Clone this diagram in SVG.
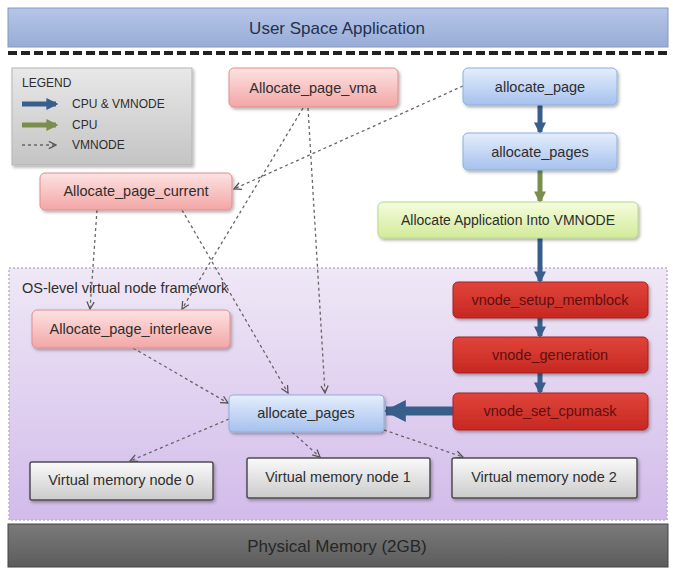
<svg xmlns="http://www.w3.org/2000/svg" width="673" height="570" viewBox="0 0 673 570">
<defs>
<linearGradient id="gBar" x1="0" y1="0" x2="0" y2="1"><stop offset="0" stop-color="#b6c6e8"/><stop offset="1" stop-color="#98acd6"/></linearGradient>
<linearGradient id="gPhys" x1="0" y1="0" x2="0" y2="1"><stop offset="0" stop-color="#7a7a7a"/><stop offset="1" stop-color="#5c5c5c"/></linearGradient>
<linearGradient id="gFrame" x1="0" y1="0" x2="0" y2="1"><stop offset="0" stop-color="#efe8f6"/><stop offset="1" stop-color="#d2bbea"/></linearGradient>
<linearGradient id="gPink" x1="0" y1="0" x2="0" y2="1"><stop offset="0" stop-color="#fde2e2"/><stop offset="1" stop-color="#f3a6a6"/></linearGradient>
<linearGradient id="gBlue" x1="0" y1="0" x2="0" y2="1"><stop offset="0" stop-color="#e4eefc"/><stop offset="1" stop-color="#a6c1ee"/></linearGradient>
<linearGradient id="gGreen" x1="0" y1="0" x2="0" y2="1"><stop offset="0" stop-color="#f5fcdf"/><stop offset="1" stop-color="#d2eb98"/></linearGradient>
<linearGradient id="gRed" x1="0" y1="0" x2="0" y2="1"><stop offset="0" stop-color="#e0443a"/><stop offset="1" stop-color="#c62822"/></linearGradient>
<linearGradient id="gGray" x1="0" y1="0" x2="0" y2="1"><stop offset="0" stop-color="#fafafa"/><stop offset="1" stop-color="#cbcbcb"/></linearGradient>
<linearGradient id="gLegend" x1="0" y1="0" x2="0" y2="1"><stop offset="0" stop-color="#e8e8e8"/><stop offset="1" stop-color="#c4c4c4"/></linearGradient>
<filter id="sh" x="-10%" y="-20%" width="125%" height="150%"><feDropShadow dx="1.5" dy="2" stdDeviation="1.5" flood-color="#000" flood-opacity="0.3"/></filter>
<marker id="mDash" viewBox="0 0 10 10" refX="9" refY="5" markerWidth="9" markerHeight="9" markerUnits="userSpaceOnUse" orient="auto"><path d="M1,1 L9,5 L1,9" fill="none" stroke="#555" stroke-width="1.4"/></marker>
<marker id="mBlue" viewBox="0 0 10 10" refX="8" refY="5" markerWidth="12" markerHeight="12" markerUnits="userSpaceOnUse" orient="auto"><path d="M0,0 L10,5 L0,10 Z" fill="#385f8c"/></marker>
<marker id="mGreen" viewBox="0 0 10 10" refX="8" refY="5" markerWidth="12" markerHeight="12" markerUnits="userSpaceOnUse" orient="auto"><path d="M0,0 L10,5 L0,10 Z" fill="#7a8f4e"/></marker>
<marker id="mBig" viewBox="0 0 10 10" refX="9" refY="5" markerWidth="22" markerHeight="22" markerUnits="userSpaceOnUse" orient="auto"><path d="M0,0 L10,5 L0,10 Z" fill="#385f8c"/></marker>
</defs>
<style>
text{font-family:"Liberation Sans",Arial,sans-serif;font-size:14.5px;fill:#2e2e2e;text-anchor:middle;dominant-baseline:central}
.pink{fill:url(#gPink);stroke:#df8e8e;stroke-width:1;filter:url(#sh)}
.blue{fill:url(#gBlue);stroke:#8eafdc;stroke-width:1;filter:url(#sh)}
.green{fill:url(#gGreen);stroke:#b8d68a;stroke-width:1;filter:url(#sh)}
.red{fill:url(#gRed);stroke:#a82020;stroke-width:1;filter:url(#sh)}
.gray{fill:url(#gGray);stroke:#4d4d4d;stroke-width:1.5;filter:url(#sh)}
.redt{fill:#5e1010}
.lt{text-anchor:start;font-size:12px}
.dash{fill:none;stroke:#666;stroke-width:1.3;stroke-dasharray:3 3;marker-end:url(#mDash)}
.thick{fill:none;stroke:#385f8c;stroke-width:5;marker-end:url(#mBlue)}
.thickg{fill:none;stroke:#7a8f4e;stroke-width:5;marker-end:url(#mGreen)}
</style>
<rect width="673" height="570" fill="#fff"/>
<g id="user-space">
<rect x="8" y="8" width="660" height="39" fill="url(#gBar)" stroke="#8797bd"/>
<text x="337" y="28" style="font-size:17px;fill:#25304f">User Space Application</text>
</g>
<line x1="8" y1="53" x2="668" y2="53" stroke="#222" stroke-width="4" stroke-dasharray="9 4"/>
<g id="os-frame">
<rect x="9" y="268" width="658" height="252" fill="url(#gFrame)" stroke="#bdb3c6" stroke-width="1.5" stroke-dasharray="2 2"/>
<text x="22" y="288" style="text-anchor:start">OS-level virtual node framework</text>
</g>
<g id="physical-memory">
<rect x="8" y="524" width="660" height="43" fill="url(#gPhys)" stroke="#444"/>
<text x="337" y="546" style="font-size:17px;fill:#262626">Physical Memory (2GB)</text>
</g>
<g id="legend">
<rect x="12" y="68" width="180" height="97" fill="url(#gLegend)" stroke="#b5b5b5" filter="url(#sh)"/>
<text x="22" y="83" class="lt">LEGEND</text>
<line x1="22" y1="104" x2="56" y2="104" stroke="#385f8c" stroke-width="5" marker-end="url(#mBlue)"/>
<text x="72" y="104" class="lt">CPU &amp; VMNODE</text>
<line x1="22" y1="125" x2="56" y2="125" stroke="#7a8f4e" stroke-width="5" marker-end="url(#mGreen)"/>
<text x="72" y="125" class="lt">CPU</text>
<line x1="22" y1="145" x2="56" y2="145" class="dash"/>
<text x="72" y="145" class="lt">VMNODE</text>
</g>
<g id="connectors">
<line x1="540" y1="105" x2="540" y2="132" class="thick"/>
<line x1="540" y1="170" x2="540" y2="201" class="thickg"/>
<line x1="540" y1="238" x2="540" y2="281" class="thick"/>
<line x1="540" y1="318" x2="540" y2="336" class="thick"/>
<line x1="540" y1="373" x2="540" y2="392" class="thick"/>
<line x1="453" y1="411" x2="386" y2="411" stroke="#385f8c" stroke-width="9" marker-end="url(#mBig)"/>
<line x1="463" y1="86" x2="234" y2="189" class="dash"/>
<line x1="303" y1="108" x2="182" y2="309" class="dash"/>
<line x1="308" y1="108" x2="325" y2="393" class="dash"/>
<line x1="97" y1="210" x2="90" y2="309" class="dash"/>
<line x1="182" y1="210" x2="288" y2="393" class="dash"/>
<line x1="133" y1="348" x2="228" y2="403" class="dash"/>
<line x1="229" y1="419" x2="130" y2="461" class="dash"/>
<line x1="292" y1="432" x2="320" y2="457" class="dash"/>
<line x1="384" y1="430" x2="463" y2="457" class="dash"/>
</g>
<g id="allocate_page">
<rect x="463" y="68" width="154" height="37" rx="5" class="blue"/>
<text x="540" y="87">allocate_page</text>
</g>
<g id="allocate_pages_top">
<rect x="463" y="133" width="154" height="37" rx="5" class="blue"/>
<text x="540" y="152">allocate_pages</text>
</g>
<g id="allocate_app">
<rect x="378" y="202" width="260" height="36" rx="5" class="green"/>
<text x="508" y="220" style="font-size:14px">Allocate Application Into VMNODE</text>
</g>
<g id="allocate_page_vma">
<rect x="229" y="68" width="169" height="39" rx="5" class="pink"/>
<text x="313" y="88">Allocate_page_vma</text>
</g>
<g id="allocate_page_current">
<rect x="40" y="173" width="192" height="37" rx="5" class="pink"/>
<text x="136" y="191">Allocate_page_current</text>
</g>
<g id="allocate_page_interleave">
<rect x="32" y="310" width="198" height="38" rx="5" class="pink"/>
<text x="131" y="329">Allocate_page_interleave</text>
</g>
<g id="vnode_setup_memblock">
<rect x="453" y="282" width="195" height="36" rx="5" class="red"/>
<text x="550" y="300" class="redt">vnode_setup_memblock</text>
</g>
<g id="vnode_generation">
<rect x="453" y="337" width="195" height="36" rx="5" class="red"/>
<text x="550" y="355" class="redt">vnode_generation</text>
</g>
<g id="vnode_set_cpumask">
<rect x="453" y="393" width="195" height="37" rx="5" class="red"/>
<text x="550" y="411" class="redt">vnode_set_cpumask</text>
</g>
<g id="allocate_pages_bottom">
<rect x="229" y="395" width="155" height="37" rx="4" class="blue"/>
<text x="306" y="413">allocate_pages</text>
</g>
<g id="vm_node_0">
<rect x="30" y="462" width="183" height="38" rx="2" class="gray"/>
<text x="121" y="480">Virtual memory node 0</text>
</g>
<g id="vm_node_1">
<rect x="247" y="458" width="183" height="40" rx="2" class="gray"/>
<text x="338" y="477">Virtual memory node 1</text>
</g>
<g id="vm_node_2">
<rect x="452" y="458" width="185" height="40" rx="2" class="gray"/>
<text x="544" y="477">Virtual memory node 2</text>
</g>
</svg>
